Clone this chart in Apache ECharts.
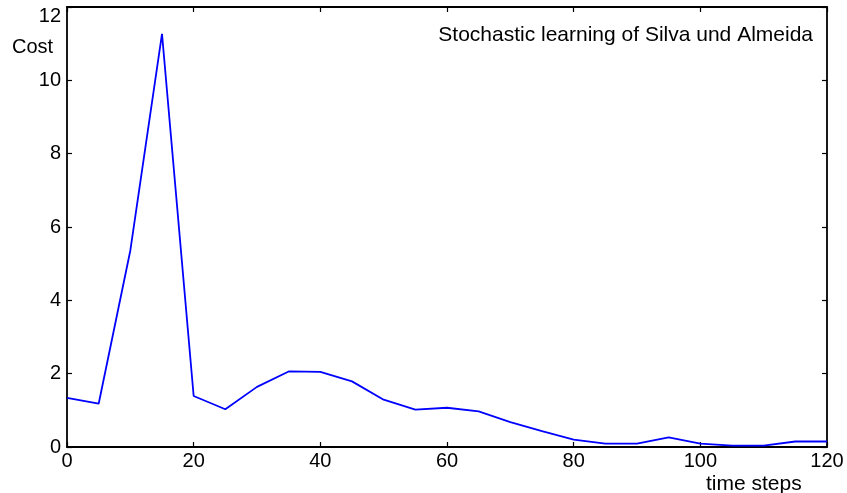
<!DOCTYPE html>
<html><head><meta charset="utf-8">
<script src="https://cdn.jsdelivr.net/npm/echarts@6/dist/echarts.min.js"></script>
<style>html,body{margin:0;padding:0;background:#fff}#c{width:847px;height:493px}</style>
</head><body><div id="c"></div>
<script>
const steps = [0,5,10,15,20,25,30,35,40,45,50,55,60,65,70,75,80,85,90,95,100,105,110,115,120];
const cost = [1.34,1.18,5.36,11.27,1.39,1.03,1.64,2.06,2.05,1.79,1.29,1.02,1.07,0.97,0.68,0.43,0.20,0.09,0.09,0.26,0.09,0.04,0.04,0.15,0.15];
const xTicks = [0,20,40,60,80,100,120];
const yTicks = [0,2,4,6,8,10,12];
const titleText = 'Stochastic learning of Silva und Almeida';
const yName = 'Cost';
const xName = 'time steps';

const font = 'Liberation Sans, Arial, sans-serif';
const chart = echarts.init(document.getElementById('c'));
const axLine = {show:true, onZero:false, lineStyle:{color:'#000', width:1.8}};
const tick = {show:true, inside:true, length:5, lineStyle:{color:'#000', width:1.2}};
const yMax = yTicks[yTicks.length-1];
chart.setOption({
  animation:false,
  backgroundColor:'#fff',
  title:{text:titleText, right:29, top:20, textStyle:{fontFamily:font, fontSize:21, fontWeight:'normal', color:'#000'}},
  grid:{left:67, right:20, top:7, bottom:46, containLabel:false},
  xAxis:[
    {type:'value', min:xTicks[0], max:xTicks[xTicks.length-1], interval:20, position:'bottom',
     axisLine:axLine, axisTick:tick, splitLine:{show:false},
     axisLabel:{color:'#000', fontFamily:font, fontSize:20, margin:4}},
    {type:'value', min:xTicks[0], max:xTicks[xTicks.length-1], interval:20, position:'top',
     axisLine:axLine, axisTick:tick, splitLine:{show:false}, axisLabel:{show:false}}
  ],
  yAxis:[
    {type:'value', min:yTicks[0], max:yMax, interval:2, position:'left',
     axisLine:axLine, axisTick:tick, splitLine:{show:false},
     axisLabel:{color:'#000', fontFamily:font, fontSize:20, margin:6,
       formatter:v => v===yMax ? '{t|'+v+'}' : '{n|'+v+'}',
       rich:{t:{fontFamily:font, fontSize:20, color:'#000', padding:[18,0,0,0]},
             n:{fontFamily:font, fontSize:20, color:'#000'}}}},
    {type:'value', min:yTicks[0], max:yMax, interval:2, position:'right',
     axisLine:axLine, axisTick:tick, splitLine:{show:false}, axisLabel:{show:false}}
  ],
  graphic:[
    {type:'text', left:12, top:37, style:{text:yName, fill:'#000', font:'20px '+font}},
    {type:'text', left:706, top:474, style:{text:xName, fill:'#000', font:'21px '+font}}
  ],
  series:[{type:'line', data:steps.map((s,i)=>[s,cost[i]]), showSymbol:false, symbol:'none',
    lineStyle:{color:'#0000ff', width:1.8}, itemStyle:{color:'#0000ff'}}]
});
</script></body></html>
